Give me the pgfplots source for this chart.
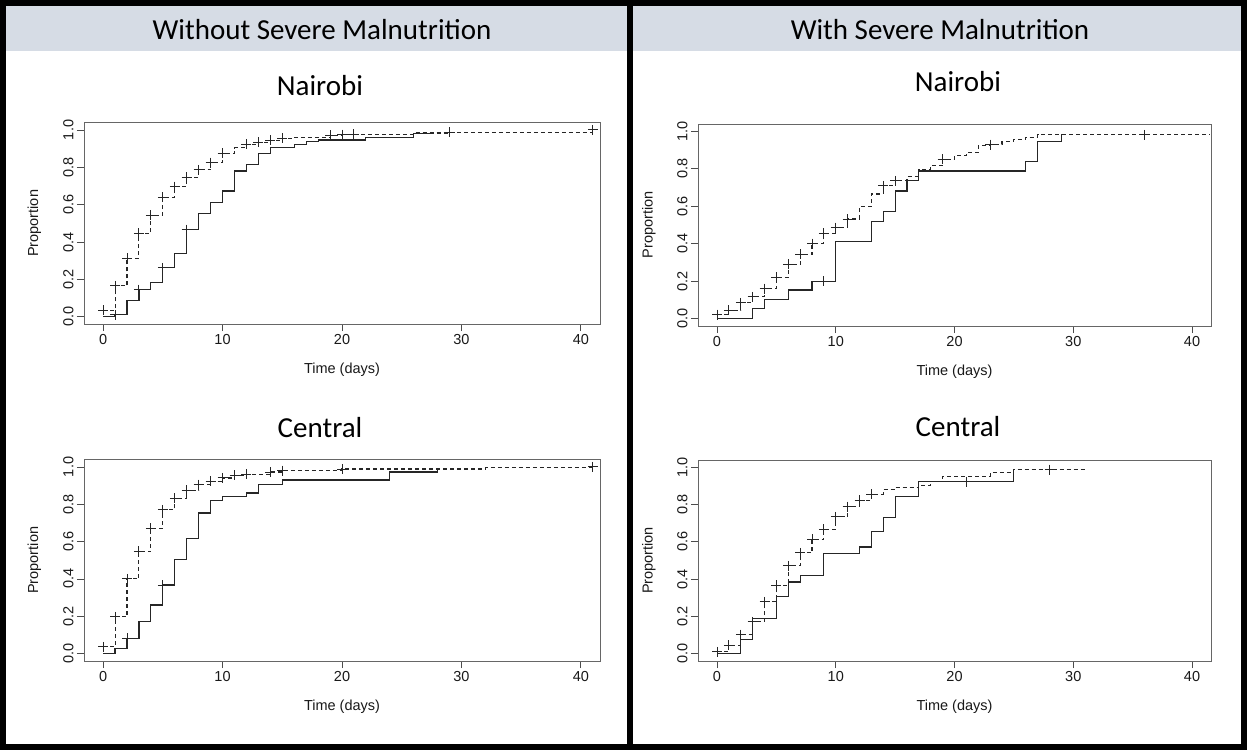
\documentclass[border=0pt]{standalone}
\usepackage{pgfplots}
\pgfplotsset{compat=1.18}
\usepackage{fontspec}
\setmainfont{Liberation Sans}
\newfontfamily\calfont{Carlito}
\definecolor{hdr}{RGB}{214,220,229}

\pgfplotsset{
  km/.style={
    scale only axis, anchor=south west,
    xmin=-1.6, xmax=41.6, ymin=-0.04, ymax=1.04,
    xtick={0,10,20,30,40}, ytick={0,0.2,0.4,0.6,0.8,1},
    tick pos=left, tick align=outside, major tick length=7bp,
    axis line style={black!60, line width=1bp},
    tick style={black!70, line width=0.8bp},
    /pgf/number format/assume math mode=true,
    ticklabel style={font=\fontsize{14.5bp}{16bp}\selectfont, text=black!90},
    yticklabel style={rotate=90, anchor=south,
      /pgf/number format/.cd, fixed, fixed zerofill, precision=1},
    label style={font=\fontsize{14.5bp}{16bp}\selectfont, text=black!90},
    xlabel={Time (days)}, ylabel={Proportion},
    xlabel style={at={(axis description cs:0.5,-0.226)}, anchor=center},
    ylabel style={at={(axis description cs:-0.096,0.5)}, anchor=center},
  },
  sol/.style={const plot, black!85, line width=1.2bp, mark=none},
  dsh/.style={const plot, black!85, line width=1.1bp, dash pattern=on 4bp off 3bp, mark=none},
  cens/.style={only marks, mark=+, mark size=5bp, black!85, mark options={line width=1bp, solid}},
}

\begin{document}
\begin{tikzpicture}
\useasboundingbox (0,0) rectangle (1247bp,-750bp);
\fill[white] (0,0) rectangle (1247bp,-750bp);
\fill[hdr] (6bp,-6bp) rectangle (627bp,-51bp);
\fill[hdr] (633bp,-6bp) rectangle (1241bp,-51bp);
\draw[line width=6bp] (3bp,-3bp) rectangle (1244bp,-747bp);
\fill (627bp,0) rectangle (633bp,-750bp);

\node[font=\calfont\fontsize{29bp}{32bp}\selectfont] at (322bp,-30bp) {Without Severe Malnutrition};
\node[font=\calfont\fontsize{29bp}{32bp}\selectfont] at (940bp,-30bp) {With Severe Malnutrition};
\node[font=\calfont\fontsize{29bp}{32bp}\selectfont] at (320bp,-86bp) {Nairobi};
\node[font=\calfont\fontsize{29bp}{32bp}\selectfont] at (958bp,-82bp) {Nairobi};
\node[font=\calfont\fontsize{29bp}{32bp}\selectfont] at (320bp,-428bp) {Central};
\node[font=\calfont\fontsize{29bp}{32bp}\selectfont] at (958bp,-427bp) {Central};

% Without severe malnutrition, Nairobi
\begin{axis}[km, at={(84bp,-324.2bp)}, width=516bp, height=201.7bp]
\addplot[sol] coordinates {(0,0) (1,0.01) (2,0.086) (3,0.145) (4,0.184) (5,0.262) (6,0.339) (7,0.467) (8,0.554) (9,0.611) (10,0.673) (11,0.78) (12,0.816) (13,0.872) (14,0.906) (16,0.922) (17,0.937) (18,0.946) (22,0.961) (26,0.982) (27.5,0.982)};
\addplot[cens] coordinates {(1,0.01) (3,0.145) (5,0.262) (7,0.467)};
\addplot[dsh] coordinates {(0,0.034) (1,0.165) (2,0.314) (3,0.446) (4,0.544) (5,0.64) (6,0.697) (7,0.746) (8,0.786) (9,0.825) (10,0.875) (11,0.905) (12,0.924) (13,0.934) (14,0.945) (15,0.955) (16,0.962) (19,0.972) (20,0.975) (21,0.978) (26,0.984) (29,0.988) (41,1.0)};
\addplot[cens] coordinates {(0,0.034) (1,0.165) (2,0.314) (3,0.446) (4,0.544) (5,0.64) (6,0.697) (7,0.746) (8,0.786) (9,0.825) (10,0.875) (12,0.924) (13,0.934) (14,0.945) (15,0.955) (19,0.972) (20,0.975) (21,0.978) (29,0.988) (41,1.0)};
\end{axis}

% With severe malnutrition, Nairobi
\begin{axis}[km, at={(698bp,-326bp)}, width=513bp, height=202bp]
\addplot[sol] coordinates {(0,0) (3,0.054) (4,0.1) (6,0.152) (8,0.2) (10,0.41) (13,0.518) (14,0.571) (15,0.682) (16,0.736) (17,0.789) (26,0.839) (27,0.946) (29,0.985)};
\addplot[cens] coordinates {(9,0.2)};
\addplot[dsh] coordinates {(0,0.021) (1,0.045) (2,0.084) (3,0.116) (4,0.16) (5,0.22) (6,0.289) (7,0.343) (8,0.40) (9,0.455) (10,0.486) (11,0.532) (12,0.598) (13,0.666) (14,0.709) (15,0.736) (16,0.759) (17,0.795) (18,0.816) (19,0.852) (20,0.87) (21,0.887) (22,0.923) (23,0.93) (24,0.946) (25,0.955) (26,0.97) (27,0.982) (41.5,0.982)};
\addplot[cens] coordinates {(0,0.021) (1,0.045) (2,0.084) (3,0.116) (4,0.16) (5,0.22) (6,0.289) (7,0.343) (8,0.40) (9,0.455) (10,0.486) (11,0.532) (14,0.709) (15,0.736) (19,0.852) (23,0.93) (36,0.982)};
\end{axis}

% Without severe malnutrition, Central
\begin{axis}[km, at={(84bp,-661bp)}, width=516bp, height=201.5bp]
\addplot[sol] coordinates {(0,0) (1,0.025) (2,0.081) (3,0.17) (4,0.26) (5,0.367) (6,0.502) (7,0.615) (8,0.753) (9,0.82) (10,0.842) (12,0.86) (13,0.908) (15,0.93) (24,0.973) (28,0.99)};
\addplot[cens] coordinates {(2,0.081) (5,0.367)};
\addplot[dsh] coordinates {(0,0.036) (1,0.197) (2,0.40) (3,0.547) (4,0.672) (5,0.77) (6,0.833) (7,0.875) (8,0.905) (9,0.923) (10,0.941) (11,0.955) (12,0.962) (14,0.973) (15,0.98) (20,0.989) (32,0.997) (41,1.0)};
\addplot[cens] coordinates {(0,0.036) (1,0.197) (2,0.40) (3,0.547) (4,0.672) (5,0.77) (6,0.833) (7,0.875) (8,0.905) (9,0.923) (10,0.941) (11,0.955) (12,0.962) (14,0.973) (15,0.98) (20,0.989) (41,1.0)};
\end{axis}

% With severe malnutrition, Central
\begin{axis}[km, at={(698bp,-661bp)}, width=513bp, height=201bp]
\addplot[sol] coordinates {(0,0) (2,0.075) (3,0.19) (5,0.305) (6,0.385) (7,0.42) (9,0.538) (12,0.573) (13,0.654) (14,0.731) (15,0.846) (17,0.923) (25,0.985)};
\addplot[cens] coordinates {(21,0.923)};
\addplot[dsh] coordinates {(0,0.009) (1,0.045) (2,0.102) (3,0.17) (4,0.278) (5,0.367) (6,0.471) (7,0.541) (8,0.613) (9,0.668) (10,0.735) (11,0.789) (12,0.824) (13,0.857) (14,0.882) (15,0.892) (17,0.905) (18,0.926) (19,0.953) (23,0.971) (25,0.989) (31,0.989)};
\addplot[cens] coordinates {(0,0.009) (1,0.045) (2,0.102) (3,0.17) (4,0.278) (5,0.367) (6,0.471) (7,0.541) (8,0.613) (9,0.668) (10,0.735) (11,0.789) (12,0.824) (13,0.857) (28,0.989)};
\end{axis}
\end{tikzpicture}
\end{document}
